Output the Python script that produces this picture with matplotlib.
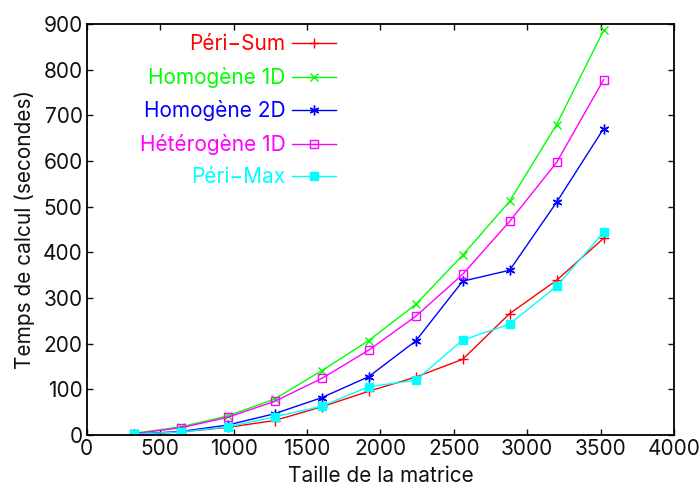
import matplotlib
matplotlib.use("Agg")
import matplotlib.pyplot as plt

plt.rcParams['font.family'] = ['Inter', 'DejaVu Sans']

tailles = [320, 640, 960, 1280, 1600, 1920, 2240, 2560, 2880, 3200, 3520]

peri_sum = [1, 7, 17, 32, 62, 96, 127, 166, 266, 339, 431]
homogene_1d = [4, 18, 42, 79, 141, 207, 286, 394, 512, 680, 886]
homogene_2d = [2, 8, 22, 47, 82, 128, 206, 337, 361, 510, 671]
heterogene_1d = [3, 16, 39, 74, 124, 186, 260, 352, 468, 597, 778]
peri_max = [2, 7, 18, 40, 63, 106, 120, 208, 243, 326, 444]

series = [
    ("Péri\u2212Sum", peri_sum, "#ff0000", "+", "none", 7),
    ("Homogène 1D", homogene_1d, "#00ff00", "x", "none", 6),
    ("Homogène 2D", homogene_2d, "#0000ff", (6, 2, 0), "none", 7),
    ("Hétérogène 1D", heterogene_1d, "#ff00ff", "s", "none", 6),
    ("Péri\u2212Max", peri_max, "#00ffff", "s", "#00ffff", 6),
]

fs = 15

fig = plt.figure(figsize=(7, 4.9), dpi=100)
ax = fig.add_axes([0.124, 0.112, 0.839, 0.839])

for label, vals, color, marker, face, ms in series:
    ax.plot(tailles, vals, color=color, marker=marker, markerfacecolor=face,
            markeredgecolor=color, markersize=ms, linewidth=1, markeredgewidth=1,
            label=label)

ax.set_xlim(0, 4000)
ax.set_ylim(0, 900)
ax.set_xticks(range(0, 4001, 500))
ax.set_yticks(range(0, 901, 100))
ax.tick_params(direction='in', top=True, right=True, length=4, width=1,
               labelsize=fs, colors='#111111', pad=3)
for s in ax.spines.values():
    s.set_linewidth(1.3)
ax.set_xlabel("Taille de la matrice", fontsize=fs, color='#111111', labelpad=5)
ax.set_ylabel("Temps de calcul (secondes)", fontsize=fs, color='#111111', labelpad=6)

leg = ax.legend(loc='upper right', bbox_to_anchor=(0.438, 0.995), frameon=False,
                markerfirst=False, labelcolor='linecolor', fontsize=fs,
                handlelength=2.1, handletextpad=0.3, labelspacing=0.6,
                borderaxespad=0)

fig.savefig("out.png", dpi=100)
